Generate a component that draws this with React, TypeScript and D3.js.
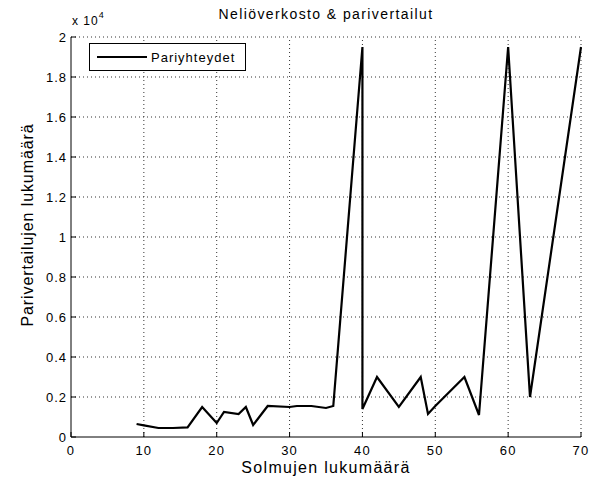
import React from 'react';
import * as d3 from 'd3';

// node counts (x) and pairwise comparison counts (y)
const nodeCounts = [9, 10, 12, 14, 16, 18, 20, 21, 23, 24, 25, 27, 30, 31, 33, 35, 36, 40, 40, 42, 45, 48, 49, 50, 54, 56, 60, 63, 70];
const comparisons = [650, 580, 450, 450, 480, 1500, 700, 1250, 1150, 1500, 600, 1550, 1500, 1550, 1550, 1450, 1550, 19500, 1400, 3000, 1500, 3000, 1150, 1550, 3000, 1100, 19500, 2000, 19500];
const xTicks = [0, 10, 20, 30, 40, 50, 60, 70];
const yTicks = [0, 0.2, 0.4, 0.6, 0.8, 1, 1.2, 1.4, 1.6, 1.8, 2];

const font = 'Arial, "Liberation Sans", sans-serif';

const App = () => {
  const width = 596, height = 481;
  const margin = { top: 37, right: 15, bottom: 44, left: 71 };

  const x = d3.scaleLinear().domain([0, 70]).range([margin.left, width - margin.right]);
  // values shown in units of 10^4
  const y = d3.scaleLinear().domain([0, 2]).range([height - margin.bottom, margin.top]);

  const points: [number, number][] = nodeCounts.map((n, i) => [n, comparisons[i] / 1e4]);
  const line = d3.line<[number, number]>().x(d => x(d[0])).y(d => y(d[1]));

  const x0 = x(0), x1 = x(70), y0 = y(0), y1 = y(2);

  return (
    <svg width={width} height={height} style={{ position: 'absolute', left: 0, top: 0, background: '#fff' }}>
      <rect width={width} height={height} fill="#fff" />
      {/* dotted grid */}
      {xTicks.filter(t => t > 0).map(t => (
        <line key={`gx${t}`} x1={x(t)} x2={x(t)} y1={y0} y2={y1} stroke="#333" strokeWidth={1} strokeDasharray="1 3" />
      ))}
      {yTicks.filter(t => t > 0).map(t => (
        <line key={`gy${t}`} x1={x0} x2={x1} y1={y(t)} y2={y(t)} stroke="#333" strokeWidth={1} strokeDasharray="1 3" />
      ))}
      {/* axes */}
      <line x1={x0} x2={x1} y1={y0} y2={y0} stroke="#000" />
      <line x1={x0} x2={x0} y1={y0} y2={y1} stroke="#000" />
      {xTicks.map(t => (
        <g key={`tx${t}`}>
          <line x1={x(t)} x2={x(t)} y1={y0} y2={y0 - 5} stroke="#000" />
          <text x={x(t)} y={y0 + 18} textAnchor="middle" fontFamily={font} fontSize={13} letterSpacing={1.2}>{t}</text>
        </g>
      ))}
      {yTicks.map(t => (
        <g key={`ty${t}`}>
          <line x1={x0} x2={x0 + 5} y1={y(t)} y2={y(t)} stroke="#000" />
          <text x={x0 - 4} y={y(t) + 5} textAnchor="end" fontFamily={font} fontSize={13} letterSpacing={1}>{t}</text>
        </g>
      ))}
      <text x={72} y={25} fontFamily={font} fontSize={12} letterSpacing={1}>x 10<tspan dy={-7} fontSize={9}>4</tspan></text>
      {/* data line */}
      <path d={line(points) ?? ''} fill="none" stroke="#000" strokeWidth={2.2} strokeLinejoin="miter" />
      {/* legend */}
      <rect x={89.5} y={43.5} width={156} height={27} fill="#fff" stroke="#000" />
      <line x1={97} x2={147} y1={57} y2={57} stroke="#000" strokeWidth={2} />
      <text x={151} y={62} fontFamily={font} fontSize={13} letterSpacing={1}>Pariyhteydet</text>
      {/* titles */}
      <text x={(x0 + x1) / 2} y={19} textAnchor="middle" fontFamily={font} fontSize={14} letterSpacing={1.4}>Neliöverkosto &amp; parivertailut</text>
      <text x={(x0 + x1) / 2} y={473} textAnchor="middle" fontFamily={font} fontSize={16} letterSpacing={1.3}>Solmujen lukumäärä</text>
      <text transform={`translate(33, ${(y0 + y1) / 2 - 12}) rotate(-90)`} textAnchor="middle" fontFamily={font} fontSize={16} letterSpacing={0.9}>Parivertailujen lukumäärä</text>
    </svg>
  );
};

export default App;
